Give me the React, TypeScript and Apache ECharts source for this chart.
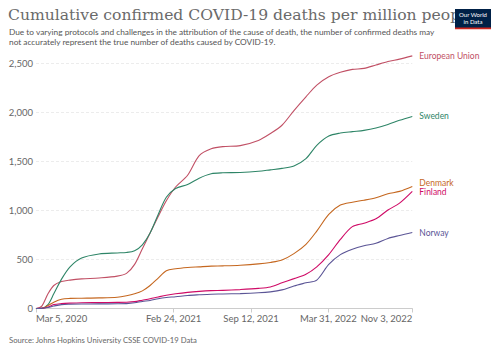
import React, { useEffect, useRef } from "react";
import * as echarts from "echarts";

const titleText = "Cumulative confirmed COVID-19 deaths per million people";
const subtitleLines = [
  "Due to varying protocols and challenges in the attribution of the cause of death, the number of confirmed deaths may",
  "not accurately represent the true number of deaths caused by COVID-19.",
];
const sourceText = "Source: Johns Hopkins University CSSE COVID-19 Data";

const dates = [
  "2020-03-05", "2020-03-20", "2020-04-05", "2020-04-20", "2020-05-10", "2020-06-01", "2020-07-01",
  "2020-08-15", "2020-10-01", "2020-10-25", "2020-11-15", "2020-12-05", "2020-12-25", "2021-01-15",
  "2021-02-05", "2021-03-01", "2021-04-01", "2021-05-01", "2021-06-01", "2021-07-01", "2021-08-15",
  "2021-10-01", "2021-11-01", "2021-12-01", "2022-01-01", "2022-02-01", "2022-03-01", "2022-04-01",
  "2022-05-01", "2022-06-01", "2022-07-01", "2022-08-01", "2022-09-01", "2022-10-01", "2022-11-03",
];

const euValues = [0, 25, 150, 235, 275, 290, 302, 312, 330, 358, 450, 610, 770, 940, 1100, 1240, 1360, 1560, 1630, 1652, 1662, 1715, 1785, 1870, 2020, 2160, 2280, 2365, 2410, 2440, 2450, 2485, 2520, 2545, 2578];
const swedenValues = [0, 3, 40, 150, 300, 425, 515, 556, 567, 572, 590, 650, 770, 960, 1135, 1225, 1265, 1330, 1375, 1385, 1388, 1400, 1415, 1430, 1455, 1530, 1665, 1760, 1790, 1805, 1818, 1842, 1878, 1920, 1960];
const denmarkValues = [0, 2, 30, 65, 95, 103, 105, 108, 115, 130, 150, 180, 235, 310, 385, 405, 418, 425, 432, 435, 442, 455, 470, 495, 560, 655, 790, 960, 1055, 1085, 1105, 1130, 1170, 1195, 1245];
const finlandValues = [0, 1, 15, 40, 50, 55, 59, 60, 62, 64, 70, 85, 100, 118, 135, 150, 165, 175, 182, 185, 193, 205, 220, 262, 305, 350, 425, 550, 705, 835, 870, 915, 1005, 1075, 1195];
const norwayValues = [0, 1, 10, 25, 40, 44, 46, 47, 48, 50, 58, 72, 82, 100, 112, 120, 133, 140, 146, 148, 152, 160, 170, 190, 230, 262, 290, 450, 550, 605, 640, 665, 715, 745, 775];

const xTickDates = ["2020-03-05", "2021-02-24", "2021-09-12", "2022-03-31", "2022-11-03"];
const yTickValues = [0, 500, 1000, 1500, 2000, 2500];

const seriesDefs = [
  { name: "European Union", values: euValues, color: "#c15065", offset: [-1, 0] },
  { name: "Sweden", values: swedenValues, color: "#2e8567", offset: [-1, 0] },
  { name: "Denmark", values: denmarkValues, color: "#c5671f", offset: [-1, -3] },
  { name: "Finland", values: finlandValues, color: "#cf0a66", offset: [-1, 1] },
  { name: "Norway", values: norwayValues, color: "#5b5596", offset: [-1, 0] },
];

const MONTHS = ["Jan", "Feb", "Mar", "Apr", "May", "Jun", "Jul", "Aug", "Sep", "Oct", "Nov", "Dec"];

function toTs(s: string): number {
  const [y, m, d] = s.split("-").map(Number);
  return new Date(y, m - 1, d).getTime();
}

function fmtDate(v: number): string {
  const d = new Date(v);
  return `${MONTHS[d.getMonth()]} ${d.getDate()}, ${d.getFullYear()}`;
}

export default function App() {
  const ref = useRef<HTMLDivElement>(null);

  useEffect(() => {
    if (!ref.current) return;
    const chart = echarts.init(ref.current, undefined, { renderer: "svg" });
    const sans = "Lato, 'Noto Sans', sans-serif";
    const xTicks = xTickDates.map(toTs);

    chart.setOption({
      animation: false,
      backgroundColor: "#ffffff",
      title: [
        {
          text: subtitleLines.join("\n"),
          left: 9,
          top: 27,
          padding: 0,
          textStyle: { fontFamily: sans, fontSize: 8.3, fontWeight: "normal", color: "#555555", lineHeight: 9.7 },
        },
        {
          text: sourceText,
          left: 9,
          top: 335.5,
          padding: 0,
          textStyle: { fontFamily: sans, fontSize: 7.7, fontWeight: "normal", color: "#666666" },
        },
      ],
      grid: { left: 36, right: 87.7, top: 53.7, bottom: 44.5, containLabel: false },
      xAxis: {
        type: "value",
        min: toTs(dates[0]),
        max: toTs(dates[dates.length - 1]),
        axisLine: { show: true, lineStyle: { color: "#cccccc", width: 1 } },
        axisTick: { show: true, length: 4, customValues: xTicks, lineStyle: { color: "#cccccc" } },
        axisLabel: {
          customValues: xTicks,
          formatter: (v: number) => fmtDate(v),
          fontFamily: sans,
          fontSize: 9.5,
          color: "#666666",
          margin: 5,
          alignMinLabel: "left",
          alignMaxLabel: "right",
          showMinLabel: true,
          showMaxLabel: true,
          hideOverlap: false,
        },
        splitLine: { show: false },
      },
      yAxis: {
        type: "value",
        min: 0,
        max: 2600,
        interval: 500,
        axisLine: { show: false },
        axisTick: { show: false },
        axisLabel: {
          customValues: yTickValues,
          formatter: (v: number) => v.toLocaleString("en-US"),
          fontFamily: sans,
          fontSize: 9.5,
          color: "#666666",
          margin: 3,
        },
        splitLine: { show: true, showMaxLine: false, showMinLine: false, lineStyle: { color: "#ececec", type: [3, 2], width: 1 } },
      },
      series: seriesDefs.map((s) => ({
        name: s.name,
        type: "line",
        data: dates.map((d, i) => [toTs(d), s.values[i]]),
        smooth: 0.3,
        showSymbol: false,
        symbol: "none",
        lineStyle: { color: s.color, width: 1.1 },
        itemStyle: { color: s.color },
        clip: false,
        endLabel: {
          show: true,
          formatter: "{a}",
          color: s.color,
          fontFamily: sans,
          fontSize: 8.5,
          offset: s.offset,
        },
      })),
      graphic: [
        {
          type: "text",
          left: 8,
          top: 8,
          z: 50,
          scaleX: 1.04,
          style: { text: titleText, fill: "#6a6a6a", font: "15px 'DejaVu Serif', serif" },
        },
        {
          type: "group",
          left: 455,
          top: 9,
          z: 100,
          children: [
            { type: "rect", shape: { x: 0, y: 0, width: 36, height: 20 }, style: { fill: "#002147" }, z: 100 },
            { type: "rect", shape: { x: 0, y: 18.5, width: 36, height: 1.8 }, style: { fill: "#ce261e" }, z: 101 },
            {
              type: "text",
              x: 18,
              y: 5.5,
              z: 102,
              style: { text: "Our World", fill: "#ffffff", font: "6px Lato, sans-serif", align: "center", verticalAlign: "middle" },
            },
            {
              type: "text",
              x: 18,
              y: 12.5,
              z: 102,
              style: { text: "in Data", fill: "#ffffff", font: "6px Lato, sans-serif", align: "center", verticalAlign: "middle" },
            },
          ],
        },
      ],
    });

    return () => chart.dispose();
  }, []);

  return (
    <div
      ref={ref}
      style={{ position: "absolute", left: 0, top: 0, width: 500, height: 353, background: "#fff" }}
    />
  );
}
